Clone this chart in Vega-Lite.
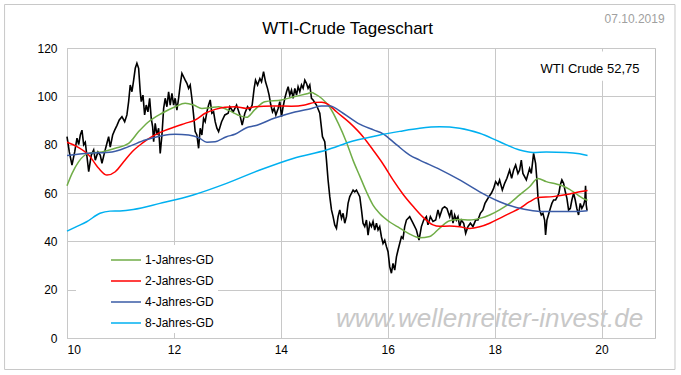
{
  "$schema": "https://vega.github.io/schema/vega-lite/v6.json",
  "description": "WTI-Crude Tageschart",
  "width": 588,
  "height": 290,
  "autosize": {"type": "none"},
  "padding": {"left": 67, "top": 48, "right": 26, "bottom": 37},
  "background": "white",
  "config": {
    "font": "Liberation Sans",
    "view": {"stroke": "#bfbfbf", "strokeWidth": 1},
    "axis": {"domain": false, "ticks": false, "grid": true, "gridColor": "#c8c8c8", "gridWidth": 1, "labelFontSize": 12, "labelColor": "#000", "labelFont": "Liberation Sans", "title": null}
  },
  "datasets": {
    "price": [
      {"t":10.000,"v":83.3},{"t":10.043,"v":77},{"t":10.093,"v":71.6},{"t":10.144,"v":77},{"t":10.187,"v":82.7},{"t":10.219,"v":80},{"t":10.249,"v":84},{"t":10.280,"v":86},{"t":10.312,"v":80},{"t":10.342,"v":81},{"t":10.374,"v":75},{"t":10.406,"v":68.8},{"t":10.454,"v":75.7},{"t":10.499,"v":77.8},{"t":10.529,"v":73.6},{"t":10.579,"v":77},{"t":10.622,"v":75.7},{"t":10.654,"v":72.3},{"t":10.705,"v":77},{"t":10.748,"v":80.7},{"t":10.779,"v":83.3},{"t":10.809,"v":79},{"t":10.854,"v":84},{"t":10.892,"v":86},{"t":10.935,"v":88},{"t":10.978,"v":90.2},{"t":11.028,"v":91.6},{"t":11.079,"v":89.5},{"t":11.121,"v":92.3},{"t":11.153,"v":97.8},{"t":11.183,"v":104.7},{"t":11.215,"v":101.9},{"t":11.247,"v":106.7},{"t":11.277,"v":111.6},{"t":11.308,"v":113.7},{"t":11.340,"v":111.6},{"t":11.370,"v":101.9},{"t":11.389,"v":97.8},{"t":11.421,"v":100.5},{"t":11.452,"v":92.3},{"t":11.482,"v":96.4},{"t":11.514,"v":93.6},{"t":11.546,"v":99.2},{"t":11.576,"v":90.9},{"t":11.602,"v":87.4},{"t":11.621,"v":81.2},{"t":11.650,"v":88.8},{"t":11.682,"v":84},{"t":11.714,"v":86.8},{"t":11.744,"v":76.4},{"t":11.776,"v":84},{"t":11.808,"v":95},{"t":11.837,"v":99.2},{"t":11.869,"v":95.7},{"t":11.901,"v":101.9},{"t":11.931,"v":96.4},{"t":11.963,"v":101.2},{"t":11.994,"v":96.4},{"t":12.024,"v":99.2},{"t":12.056,"v":94.3},{"t":12.088,"v":99.2},{"t":12.118,"v":104.7},{"t":12.150,"v":109.5},{"t":12.181,"v":108.1},{"t":12.211,"v":106.7},{"t":12.243,"v":105.4},{"t":12.275,"v":103.3},{"t":12.305,"v":104.7},{"t":12.336,"v":99.2},{"t":12.368,"v":92.3},{"t":12.398,"v":85.4},{"t":12.430,"v":84},{"t":12.462,"v":78.5},{"t":12.492,"v":86.8},{"t":12.523,"v":84},{"t":12.555,"v":90.9},{"t":12.585,"v":89.5},{"t":12.617,"v":93.6},{"t":12.649,"v":96.4},{"t":12.679,"v":98.5},{"t":12.710,"v":93},{"t":12.742,"v":93.6},{"t":12.772,"v":89.5},{"t":12.804,"v":86.8},{"t":12.836,"v":85.4},{"t":12.892,"v":89.5},{"t":12.953,"v":92.3},{"t":13.015,"v":93},{"t":13.047,"v":95.7},{"t":13.108,"v":93.6},{"t":13.172,"v":96.4},{"t":13.234,"v":92.3},{"t":13.277,"v":88.1},{"t":13.327,"v":93},{"t":13.378,"v":95.7},{"t":13.421,"v":94.3},{"t":13.464,"v":96.4},{"t":13.501,"v":103.3},{"t":13.527,"v":106.7},{"t":13.565,"v":104.7},{"t":13.608,"v":107.4},{"t":13.639,"v":106},{"t":13.677,"v":110.2},{"t":13.714,"v":106},{"t":13.751,"v":103.3},{"t":13.781,"v":100.5},{"t":13.813,"v":96.4},{"t":13.845,"v":93.6},{"t":13.875,"v":95},{"t":13.907,"v":92.3},{"t":13.950,"v":95},{"t":13.981,"v":97.8},{"t":14.013,"v":91.6},{"t":14.043,"v":95.7},{"t":14.075,"v":99.2},{"t":14.107,"v":101.9},{"t":14.137,"v":104},{"t":14.168,"v":100.5},{"t":14.200,"v":102.6},{"t":14.230,"v":99.2},{"t":14.262,"v":103.3},{"t":14.294,"v":100.5},{"t":14.323,"v":104},{"t":14.355,"v":101.9},{"t":14.387,"v":104.7},{"t":14.417,"v":103.3},{"t":14.449,"v":106.7},{"t":14.480,"v":105.4},{"t":14.510,"v":103.3},{"t":14.542,"v":104.7},{"t":14.574,"v":99.2},{"t":14.604,"v":98.5},{"t":14.667,"v":96.4},{"t":14.729,"v":93},{"t":14.779,"v":83.3},{"t":14.822,"v":81.2},{"t":14.854,"v":73.6},{"t":14.884,"v":65.4},{"t":14.916,"v":58.5},{"t":14.948,"v":53},{"t":14.978,"v":50.2},{"t":15.009,"v":46.8},{"t":15.041,"v":45.4},{"t":15.071,"v":50.2},{"t":15.103,"v":53},{"t":15.135,"v":49.5},{"t":15.165,"v":51.6},{"t":15.196,"v":47.5},{"t":15.228,"v":50.2},{"t":15.258,"v":55.7},{"t":15.290,"v":58.5},{"t":15.322,"v":59.9},{"t":15.352,"v":61.2},{"t":15.383,"v":60.5},{"t":15.415,"v":61.2},{"t":15.445,"v":59.9},{"t":15.477,"v":58.5},{"t":15.509,"v":53},{"t":15.538,"v":47.5},{"t":15.570,"v":46.1},{"t":15.602,"v":48.8},{"t":15.632,"v":42.6},{"t":15.664,"v":47.5},{"t":15.695,"v":46.1},{"t":15.725,"v":48.2},{"t":15.757,"v":44.7},{"t":15.789,"v":47.5},{"t":15.819,"v":44.7},{"t":15.850,"v":46.1},{"t":15.882,"v":41.9},{"t":15.912,"v":39.1},{"t":15.944,"v":40.5},{"t":15.976,"v":37.8},{"t":16.006,"v":35.7},{"t":16.037,"v":29.5},{"t":16.069,"v":26.8},{"t":16.099,"v":30.9},{"t":16.131,"v":28.1},{"t":16.163,"v":33.6},{"t":16.193,"v":36.4},{"t":16.224,"v":39.1},{"t":16.256,"v":41.9},{"t":16.286,"v":41.2},{"t":16.318,"v":46.1},{"t":16.350,"v":48.8},{"t":16.411,"v":50.2},{"t":16.473,"v":47.5},{"t":16.536,"v":44.7},{"t":16.585,"v":40.5},{"t":16.630,"v":46.1},{"t":16.673,"v":48.8},{"t":16.723,"v":50.2},{"t":16.753,"v":46.8},{"t":16.798,"v":50.2},{"t":16.847,"v":48.2},{"t":16.897,"v":48.8},{"t":16.940,"v":53},{"t":16.972,"v":50.2},{"t":17.022,"v":53.6},{"t":17.065,"v":54.3},{"t":17.108,"v":53.6},{"t":17.159,"v":50.2},{"t":17.191,"v":53},{"t":17.221,"v":47.5},{"t":17.252,"v":50.9},{"t":17.284,"v":48.8},{"t":17.314,"v":50.2},{"t":17.346,"v":46.1},{"t":17.378,"v":48.8},{"t":17.421,"v":47.5},{"t":17.458,"v":43.3},{"t":17.501,"v":46.1},{"t":17.546,"v":47.5},{"t":17.594,"v":46.1},{"t":17.645,"v":48.8},{"t":17.688,"v":48.8},{"t":17.733,"v":51.6},{"t":17.781,"v":53},{"t":17.819,"v":55.7},{"t":17.856,"v":57.1},{"t":17.893,"v":58.5},{"t":17.938,"v":59.9},{"t":17.981,"v":61.9},{"t":18.019,"v":64.7},{"t":18.062,"v":63.3},{"t":18.093,"v":65.4},{"t":18.144,"v":61.2},{"t":18.187,"v":64},{"t":18.230,"v":66.1},{"t":18.280,"v":69.5},{"t":18.318,"v":66.1},{"t":18.355,"v":69.5},{"t":18.393,"v":71.6},{"t":18.436,"v":68.1},{"t":18.467,"v":69.5},{"t":18.499,"v":73.6},{"t":18.529,"v":68.1},{"t":18.593,"v":65.4},{"t":18.654,"v":70.2},{"t":18.686,"v":68.1},{"t":18.729,"v":76.4},{"t":18.766,"v":72.3},{"t":18.791,"v":65.4},{"t":18.810,"v":58.5},{"t":18.841,"v":53},{"t":18.873,"v":50.9},{"t":18.903,"v":51.6},{"t":18.935,"v":48.8},{"t":18.953,"v":42.6},{"t":18.978,"v":48.8},{"t":19.015,"v":51.6},{"t":19.041,"v":53.6},{"t":19.071,"v":55.7},{"t":19.103,"v":57.1},{"t":19.140,"v":57.1},{"t":19.172,"v":58.5},{"t":19.202,"v":59.9},{"t":19.228,"v":63.3},{"t":19.258,"v":65.4},{"t":19.290,"v":64},{"t":19.322,"v":60.5},{"t":19.352,"v":57.8},{"t":19.383,"v":53},{"t":19.415,"v":53.6},{"t":19.445,"v":57.1},{"t":19.477,"v":59.9},{"t":19.508,"v":57.1},{"t":19.538,"v":53.6},{"t":19.570,"v":50.9},{"t":19.602,"v":55.7},{"t":19.632,"v":53.6},{"t":19.664,"v":55},{"t":19.688,"v":57.1},{"t":19.701,"v":63},{"t":19.714,"v":55},{"t":19.729,"v":52.75}
    ],
    "ma": [
      {"s":"1-Jahres-GD","t":10.000,"v":63},{"s":"1-Jahres-GD","t":10.093,"v":68},{"s":"1-Jahres-GD","t":10.219,"v":73},{"s":"1-Jahres-GD","t":10.406,"v":76.4},{"s":"1-Jahres-GD","t":10.654,"v":77},{"s":"1-Jahres-GD","t":10.903,"v":78.5},{"s":"1-Jahres-GD","t":11.153,"v":80.5},{"s":"1-Jahres-GD","t":11.340,"v":85.4},{"s":"1-Jahres-GD","t":11.527,"v":89.5},{"s":"1-Jahres-GD","t":11.776,"v":93},{"s":"1-Jahres-GD","t":12.024,"v":95.7},{"s":"1-Jahres-GD","t":12.211,"v":97.1},{"s":"1-Jahres-GD","t":12.368,"v":96.4},{"s":"1-Jahres-GD","t":12.523,"v":95},{"s":"1-Jahres-GD","t":12.673,"v":95.3},{"s":"1-Jahres-GD","t":12.836,"v":95.7},{"s":"1-Jahres-GD","t":13.015,"v":94.3},{"s":"1-Jahres-GD","t":13.196,"v":92.3},{"s":"1-Jahres-GD","t":13.359,"v":91.3},{"s":"1-Jahres-GD","t":13.514,"v":94.5},{"s":"1-Jahres-GD","t":13.701,"v":97.8},{"s":"1-Jahres-GD","t":14.013,"v":98.5},{"s":"1-Jahres-GD","t":14.262,"v":99.9},{"s":"1-Jahres-GD","t":14.510,"v":101.2},{"s":"1-Jahres-GD","t":14.574,"v":101.6},{"s":"1-Jahres-GD","t":14.654,"v":100.8},{"s":"1-Jahres-GD","t":14.761,"v":99.2},{"s":"1-Jahres-GD","t":14.916,"v":95.5},{"s":"1-Jahres-GD","t":15.071,"v":89},{"s":"1-Jahres-GD","t":15.228,"v":81},{"s":"1-Jahres-GD","t":15.352,"v":73.5},{"s":"1-Jahres-GD","t":15.477,"v":67},{"s":"1-Jahres-GD","t":15.602,"v":60.5},{"s":"1-Jahres-GD","t":15.725,"v":55},{"s":"1-Jahres-GD","t":15.850,"v":51.5},{"s":"1-Jahres-GD","t":16.037,"v":48},{"s":"1-Jahres-GD","t":16.224,"v":45.5},{"s":"1-Jahres-GD","t":16.411,"v":43},{"s":"1-Jahres-GD","t":16.598,"v":41.5},{"s":"1-Jahres-GD","t":16.785,"v":42},{"s":"1-Jahres-GD","t":16.972,"v":45.5},{"s":"1-Jahres-GD","t":17.159,"v":48.5},{"s":"1-Jahres-GD","t":17.346,"v":49},{"s":"1-Jahres-GD","t":17.533,"v":48.8},{"s":"1-Jahres-GD","t":17.720,"v":49.5},{"s":"1-Jahres-GD","t":17.907,"v":50.9},{"s":"1-Jahres-GD","t":18.093,"v":53},{"s":"1-Jahres-GD","t":18.280,"v":55.7},{"s":"1-Jahres-GD","t":18.467,"v":59.2},{"s":"1-Jahres-GD","t":18.654,"v":62.6},{"s":"1-Jahres-GD","t":18.810,"v":66},{"s":"1-Jahres-GD","t":18.966,"v":64.7},{"s":"1-Jahres-GD","t":19.153,"v":63.7},{"s":"1-Jahres-GD","t":19.277,"v":62.9},{"s":"1-Jahres-GD","t":19.402,"v":61.5},{"s":"1-Jahres-GD","t":19.527,"v":59.6},{"s":"1-Jahres-GD","t":19.650,"v":57.8},{"s":"1-Jahres-GD","t":19.738,"v":57},
      {"s":"2-Jahres-GD","t":10.000,"v":81},{"s":"2-Jahres-GD","t":10.187,"v":79.2},{"s":"2-Jahres-GD","t":10.406,"v":75.7},{"s":"2-Jahres-GD","t":10.593,"v":70.2},{"s":"2-Jahres-GD","t":10.748,"v":67.4},{"s":"2-Jahres-GD","t":10.903,"v":68.8},{"s":"2-Jahres-GD","t":11.060,"v":72.9},{"s":"2-Jahres-GD","t":11.215,"v":77},{"s":"2-Jahres-GD","t":11.402,"v":80.5},{"s":"2-Jahres-GD","t":11.589,"v":83.3},{"s":"2-Jahres-GD","t":11.776,"v":85.4},{"s":"2-Jahres-GD","t":12.024,"v":87.4},{"s":"2-Jahres-GD","t":12.211,"v":88.8},{"s":"2-Jahres-GD","t":12.398,"v":90.2},{"s":"2-Jahres-GD","t":12.585,"v":93},{"s":"2-Jahres-GD","t":12.772,"v":94.6},{"s":"2-Jahres-GD","t":12.953,"v":95.5},{"s":"2-Jahres-GD","t":13.140,"v":95.7},{"s":"2-Jahres-GD","t":13.359,"v":95},{"s":"2-Jahres-GD","t":13.514,"v":95.7},{"s":"2-Jahres-GD","t":13.850,"v":96},{"s":"2-Jahres-GD","t":14.200,"v":95.9},{"s":"2-Jahres-GD","t":14.449,"v":96.4},{"s":"2-Jahres-GD","t":14.636,"v":97.5},{"s":"2-Jahres-GD","t":14.766,"v":97.6},{"s":"2-Jahres-GD","t":14.879,"v":96.8},{"s":"2-Jahres-GD","t":15.041,"v":93.6},{"s":"2-Jahres-GD","t":15.290,"v":89},{"s":"2-Jahres-GD","t":15.538,"v":83.3},{"s":"2-Jahres-GD","t":15.725,"v":77.8},{"s":"2-Jahres-GD","t":15.912,"v":72},{"s":"2-Jahres-GD","t":16.099,"v":65.4},{"s":"2-Jahres-GD","t":16.286,"v":59.5},{"s":"2-Jahres-GD","t":16.473,"v":54.5},{"s":"2-Jahres-GD","t":16.660,"v":50},{"s":"2-Jahres-GD","t":16.847,"v":46.8},{"s":"2-Jahres-GD","t":16.972,"v":46.2},{"s":"2-Jahres-GD","t":17.159,"v":46.3},{"s":"2-Jahres-GD","t":17.346,"v":46},{"s":"2-Jahres-GD","t":17.533,"v":45.3},{"s":"2-Jahres-GD","t":17.720,"v":46},{"s":"2-Jahres-GD","t":17.907,"v":47.5},{"s":"2-Jahres-GD","t":18.093,"v":49.5},{"s":"2-Jahres-GD","t":18.280,"v":51.6},{"s":"2-Jahres-GD","t":18.467,"v":53.6},{"s":"2-Jahres-GD","t":18.654,"v":56.4},{"s":"2-Jahres-GD","t":18.810,"v":58.1},{"s":"2-Jahres-GD","t":19.090,"v":58.5},{"s":"2-Jahres-GD","t":19.402,"v":59.6},{"s":"2-Jahres-GD","t":19.589,"v":60.5},{"s":"2-Jahres-GD","t":19.738,"v":61},
      {"s":"4-Jahres-GD","t":10.000,"v":75.5},{"s":"4-Jahres-GD","t":10.406,"v":76.4},{"s":"4-Jahres-GD","t":10.841,"v":77},{"s":"4-Jahres-GD","t":11.153,"v":79.2},{"s":"4-Jahres-GD","t":11.464,"v":81.9},{"s":"4-Jahres-GD","t":11.776,"v":83.7},{"s":"4-Jahres-GD","t":12.024,"v":84.3},{"s":"4-Jahres-GD","t":12.275,"v":84},{"s":"4-Jahres-GD","t":12.462,"v":82.9},{"s":"4-Jahres-GD","t":12.617,"v":81},{"s":"4-Jahres-GD","t":12.772,"v":81.2},{"s":"4-Jahres-GD","t":12.985,"v":83.3},{"s":"4-Jahres-GD","t":13.140,"v":84.3},{"s":"4-Jahres-GD","t":13.359,"v":87},{"s":"4-Jahres-GD","t":13.514,"v":87.8},{"s":"4-Jahres-GD","t":13.888,"v":91},{"s":"4-Jahres-GD","t":14.262,"v":93.5},{"s":"4-Jahres-GD","t":14.574,"v":95},{"s":"4-Jahres-GD","t":14.761,"v":96},{"s":"4-Jahres-GD","t":14.916,"v":96},{"s":"4-Jahres-GD","t":15.165,"v":93},{"s":"4-Jahres-GD","t":15.445,"v":88.8},{"s":"4-Jahres-GD","t":15.744,"v":86},{"s":"4-Jahres-GD","t":15.912,"v":84.5},{"s":"4-Jahres-GD","t":16.163,"v":80},{"s":"4-Jahres-GD","t":16.411,"v":75.7},{"s":"4-Jahres-GD","t":16.598,"v":73.6},{"s":"4-Jahres-GD","t":16.972,"v":69.8},{"s":"4-Jahres-GD","t":17.346,"v":65.4},{"s":"4-Jahres-GD","t":17.720,"v":60.5},{"s":"4-Jahres-GD","t":18.093,"v":56.4},{"s":"4-Jahres-GD","t":18.406,"v":54},{"s":"4-Jahres-GD","t":18.716,"v":52.7},{"s":"4-Jahres-GD","t":18.966,"v":52.3},{"s":"4-Jahres-GD","t":19.402,"v":52.3},{"s":"4-Jahres-GD","t":19.738,"v":52.7},
      {"s":"8-Jahres-GD","t":10.000,"v":44.2},{"s":"8-Jahres-GD","t":10.168,"v":46},{"s":"8-Jahres-GD","t":10.368,"v":48.1},{"s":"8-Jahres-GD","t":10.617,"v":51.6},{"s":"8-Jahres-GD","t":10.804,"v":52.5},{"s":"8-Jahres-GD","t":10.991,"v":52.6},{"s":"8-Jahres-GD","t":11.239,"v":53.2},{"s":"8-Jahres-GD","t":11.738,"v":55.7},{"s":"8-Jahres-GD","t":12.361,"v":59.2},{"s":"8-Jahres-GD","t":12.985,"v":64},{"s":"8-Jahres-GD","t":13.608,"v":69.5},{"s":"8-Jahres-GD","t":14.230,"v":74.3},{"s":"8-Jahres-GD","t":14.854,"v":77.8},{"s":"8-Jahres-GD","t":15.352,"v":81.5},{"s":"8-Jahres-GD","t":15.850,"v":84},{"s":"8-Jahres-GD","t":16.224,"v":85.5},{"s":"8-Jahres-GD","t":16.598,"v":86.8},{"s":"8-Jahres-GD","t":16.972,"v":87.4},{"s":"8-Jahres-GD","t":17.346,"v":86.8},{"s":"8-Jahres-GD","t":17.720,"v":84.7},{"s":"8-Jahres-GD","t":18.093,"v":81.2},{"s":"8-Jahres-GD","t":18.467,"v":77.8},{"s":"8-Jahres-GD","t":18.716,"v":76.8},{"s":"8-Jahres-GD","t":18.966,"v":77},{"s":"8-Jahres-GD","t":19.340,"v":76.8},{"s":"8-Jahres-GD","t":19.589,"v":76.2},{"s":"8-Jahres-GD","t":19.738,"v":75.5}
    ]
  },
  "layer": [
    {
      "data": {"name": "price"},
      "mark": {"type": "line", "color": "#000000", "strokeWidth": 1.6, "interpolate": "linear"},
      "encoding": {
        "x": {"field": "t", "type": "quantitative", "scale": {"domain": [10, 21], "nice": false, "zero": false}, "axis": {"values": [10, 12, 14, 16, 18, 20], "labelPadding": 6, "labelAngle": 0}},
        "y": {"field": "v", "type": "quantitative", "scale": {"domain": [0, 120], "nice": false}, "axis": {"values": [0, 20, 40, 60, 80, 100, 120], "labelPadding": 10}}
      }
    },
    {
      "data": {"name": "ma"},
      "mark": {"type": "line", "strokeWidth": 1.5, "interpolate": "monotone"},
      "encoding": {
        "x": {"field": "t", "type": "quantitative"},
        "y": {"field": "v", "type": "quantitative"},
        "color": {
          "field": "s", "type": "nominal",
          "scale": {"domain": ["1-Jahres-GD", "2-Jahres-GD", "4-Jahres-GD", "8-Jahres-GD"], "range": ["#70ad47", "#ff0000", "#3a5ba6", "#00b0f0"]},
          "legend": {
            "title": null, "orient": "none", "legendX": 9, "legendY": 197,
            "fillColor": "white", "padding": 4,
            "symbolType": "M-1.5,0H1.5", "symbolSize": 400, "symbolStrokeWidth": 1.5,
            "symbolOffset": 35, "labelOffset": 8,
            "labelFontSize": 12, "labelColor": "#000", "labelFont": "Liberation Sans",
            "rowPadding": 4
          }
        }
      }
    },
    {
      "data": {"values": [{"label": "frame"}]},
      "mark": {"type": "rect", "fill": null, "fillOpacity": 0, "stroke": "#c8c8c8", "strokeWidth": 1, "clip": false},
      "encoding": {
        "x": {"datum": 8.832, "type": "quantitative"},
        "x2": {"datum": 21.374},
        "y": {"datum": -13.03, "type": "quantitative"},
        "y2": {"datum": 138.0}
      }
    },
    {
      "data": {"values": [{"label": "WTI Crude 52,75"}]},
      "layer": [
        {
          "mark": {"type": "rect", "fill": "white"},
          "encoding": {
            "x": {"datum": 19.3, "type": "quantitative"},
            "x2": {"datum": 20.85},
            "y": {"datum": 106.5, "type": "quantitative"},
            "y2": {"datum": 118.6}
          }
        },
        {
          "mark": {"type": "text", "align": "right", "baseline": "alphabetic", "fontSize": 13, "fill": "#000000"},
          "encoding": {
            "x": {"datum": 20.71, "type": "quantitative"},
            "y": {"datum": 109.6, "type": "quantitative"},
            "text": {"field": "label", "type": "nominal"}
          }
        }
      ]
    },
    {
      "data": {"values": [{"label": "www.wellenreiter-invest.de"}]},
      "mark": {"type": "text", "align": "right", "baseline": "alphabetic", "fontSize": 26, "fontStyle": "italic", "fill": "#c8c8c8"},
      "encoding": {
        "x": {"datum": 20.78, "type": "quantitative"},
        "y": {"datum": 4.5, "type": "quantitative"},
        "text": {"field": "label", "type": "nominal"}
      }
    },
    {
      "data": {"values": [{"label": "WTI-Crude Tageschart"}]},
      "mark": {"type": "text", "align": "center", "baseline": "alphabetic", "fontSize": 17, "fill": "#000000"},
      "encoding": {
        "x": {"datum": 15.25, "type": "quantitative"},
        "y": {"datum": 125.8, "type": "quantitative"},
        "text": {"field": "label", "type": "nominal"}
      }
    },
    {
      "data": {"values": [{"label": "07.10.2019"}]},
      "mark": {"type": "text", "align": "right", "baseline": "alphabetic", "fontSize": 12, "fill": "#a0a0a0"},
      "encoding": {
        "x": {"datum": 21.18, "type": "quantitative"},
        "y": {"datum": 130.3, "type": "quantitative"},
        "text": {"field": "label", "type": "nominal"}
      }
    }
  ]
}
